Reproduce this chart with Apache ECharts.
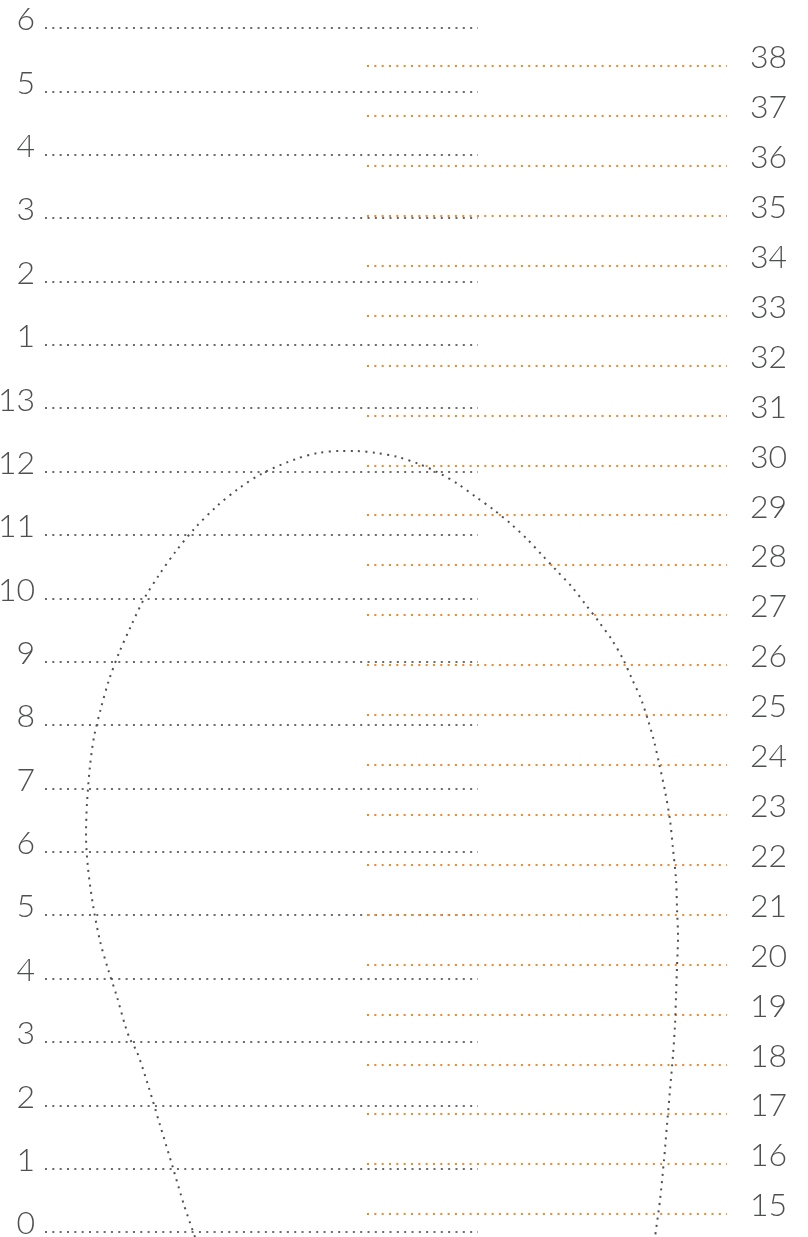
<!DOCTYPE html>
<html>
<head>
<meta charset="utf-8">
<script src="https://cdn.jsdelivr.net/npm/echarts@6/dist/echarts.min.js"></script>
<style>
body{margin:0;background:#fff;}
#chart{width:808px;height:1237px;}
</style>
</head>
<body>
<div id="chart"></div>
<script>
// left scale, bottom to top
var leftTicks = ['0','1','2','3','4','5','6','7','8','9','10','11','12','13','1','2','3','4','5','6'];
// right scale, bottom to top
var rightTicks = ['15','16','17','18','19','20','21','22','23','24','25','26','27','28','29','30','31','32','33','34','35','36','37','38'];

// egg outline (page px)
var eggX = [195,184,173,160,148,137,130,125,117,108,100,93,88,86,87,90,94,101,109,119,131,144,159,176,195,216,238,263,296,318,340,355,377,398,419,439,458,476,494,511,527,542,557,572,586,599,612,623,632,641,648,654,659,665,670,673,676,677,678,677,676,675,673,670,667,664,660,655];
var eggY = [1237,1205,1168,1125,1085,1052,1039,1025,997,969,941,905,868,835,803,766,737,708,680,653,626,599,575,551,528,507,489,473,459,453,451,451,453,457,464,473,484,497,510,524,539,555,571,587,605,622,640,659,679,699,720,741,763,791,820,849,879,908,937,967,996,1025,1055,1090,1125,1160,1200,1237];

var grey = '#6a6a6a';
var orange = '#F3872A';
var dots = [2, 5.33];

var eggData = [];
for (var i = 0; i < eggX.length; i++) {
    eggData.push([eggX[i], eggY[i]]);
}

// labels sit a little above their line
var labelStyle = {
    fontFamily: 'Lato',
    fontWeight: 300,
    fontSize: 32,
    color: '#4f5052',
    verticalAlign: 'bottom',
    lineHeight: 16
};

var myChart = echarts.init(document.getElementById('chart'));

var option = {
    animation: false,
    grid: [
        {left: 45, right: 330, top: 28, bottom: 5, outerBoundsMode: 'none'},
        {left: 367, right: 81, top: 66, bottom: 23, outerBoundsMode: 'none'},
        {left: 0, right: 0, top: 0, bottom: 0, outerBoundsMode: 'none'}
    ],
    xAxis: [
        {gridIndex: 0, type: 'value', show: false},
        {gridIndex: 1, type: 'value', show: false},
        {gridIndex: 2, type: 'value', min: 0, max: 808, show: false}
    ],
    yAxis: [
        {
            gridIndex: 0,
            type: 'category',
            data: leftTicks,
            boundaryGap: false,
            axisLine: {show: false},
            axisTick: {show: false},
            axisLabel: Object.assign({interval: 0, margin: 10}, labelStyle),
            splitLine: {show: true, interval: 0, lineStyle: {color: grey, width: 2, type: dots}}
        },
        {
            gridIndex: 1,
            type: 'category',
            position: 'right',
            data: rightTicks,
            boundaryGap: false,
            axisLine: {show: false},
            axisTick: {show: false},
            axisLabel: Object.assign({interval: 0, margin: 23}, labelStyle),
            splitLine: {show: true, interval: 0, lineStyle: {color: orange, width: 2, type: dots}}
        },
        {gridIndex: 2, type: 'value', min: 0, max: 1237, inverse: true, show: false}
    ],
    series: [
        {
            name: 'egg',
            type: 'line',
            xAxisIndex: 2,
            yAxisIndex: 2,
            data: eggData,
            smooth: 0.3,
            showSymbol: false,
            silent: true,
            lineStyle: {color: '#505050', width: 2, type: dots}
        }
    ]
};

myChart.setOption(option);
</script>
</body>
</html>
